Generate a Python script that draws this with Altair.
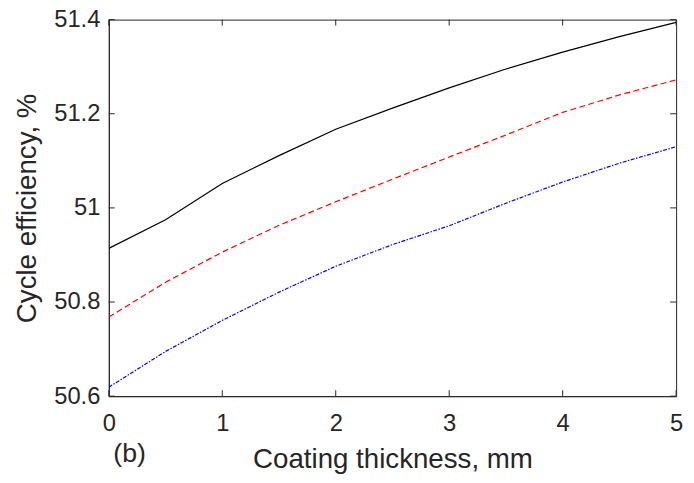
import altair as alt
import pandas as pd

thickness = [0, 0.5, 1, 1.5, 2, 2.5, 3, 3.5, 4, 4.5, 5]
black_vals = [50.914, 50.975, 51.052, 51.111, 51.167, 51.212, 51.255, 51.295, 51.331, 51.364, 51.394]
red_vals = [50.768, 50.842, 50.906, 50.963, 51.013, 51.061, 51.108, 51.155, 51.203, 51.240, 51.272]
blue_vals = [50.619, 50.695, 50.761, 50.821, 50.876, 50.922, 50.962, 51.010, 51.055, 51.095, 51.130]

x_ticks = [0, 1, 2, 3, 4, 5]
y_ticks = [50.6, 50.8, 51.0, 51.2, 51.4]

W, H = 574, 381
AX = "#262626"
FONT = "Liberation Sans"

df = pd.concat([
    pd.DataFrame({"x": thickness, "y": black_vals, "s": "black"}),
    pd.DataFrame({"x": thickness, "y": red_vals, "s": "red"}),
    pd.DataFrame({"x": thickness, "y": blue_vals, "s": "blue"}),
])

xs = alt.Scale(domain=[0, 5], nice=False, zero=False)
ys = alt.Scale(domain=[50.6, 51.4], nice=False, zero=False)

x_axis = alt.Axis(values=x_ticks, ticks=False, grid=False, domainColor=AX, domainWidth=1,
                  labelFont=FONT, labelFontSize=24, labelColor=AX, labelPadding=16,
                  labelFlush=False, labelOverlap=False,
                  title="Coating thickness, mm", titleFont=FONT, titleFontSize=28,
                  titleFontWeight="normal", titleColor=AX, titlePadding=10,
                  format="d")
y_axis = alt.Axis(values=y_ticks, ticks=False, grid=False, domainColor=AX, domainWidth=1,
                  labelFont=FONT, labelFontSize=24, labelColor=AX, labelPadding=9,
                  labelFlush=False, labelOverlap=False,
                  labelExpr="datum.value == 51 ? '51' : format(datum.value, '.1f')",
                  title="Cycle efficiency, %", titleFont=FONT, titleFontSize=28,
                  titleFontWeight="normal", titleColor=AX, titlePadding=12)

def line(series, color, dash=None):
    kw = dict(color=color, strokeWidth=1.2, clip=True)
    if dash:
        kw["strokeDash"] = dash
    return alt.Chart(df[df.s == series]).mark_line(**kw).encode(
        x=alt.X("x:Q", scale=xs, axis=x_axis),
        y=alt.Y("y:Q", scale=ys, axis=y_axis),
    )

lines = line("black", "#000000") + line("red", "#ff0000", [6, 3.5]) + line("blue", "#0000ff", [4, 1.5, 1.5, 1.5])

xt = pd.DataFrame({"t": x_ticks})
yt = pd.DataFrame({"t": y_ticks})
TL = 6
tick_bottom = alt.Chart(xt).mark_rule(color=AX, strokeWidth=1).encode(
    x=alt.X("t:Q", scale=xs), y=alt.value(H), y2=alt.value(H - TL))
tick_top = alt.Chart(xt).mark_rule(color=AX, strokeWidth=1).encode(
    x=alt.X("t:Q", scale=xs), y=alt.value(0), y2=alt.value(TL))
tick_left = alt.Chart(yt).mark_rule(color=AX, strokeWidth=1).encode(
    y=alt.Y("t:Q", scale=ys), x=alt.value(0), x2=alt.value(TL))
tick_right = alt.Chart(yt).mark_rule(color=AX, strokeWidth=1).encode(
    y=alt.Y("t:Q", scale=ys), x=alt.value(W), x2=alt.value(W - TL))

label_b = alt.Chart(pd.DataFrame({"t": ["(b)"]})).mark_text(
    font=FONT, fontSize=27, color=AX, align="center", baseline="middle"
).encode(text="t:N", x=alt.value(21), y=alt.value(440))

chart = alt.layer(lines, tick_bottom, tick_top, tick_left, tick_right, label_b).properties(
    width=W, height=H,
    autosize=alt.AutoSizeParams(type="none"),
    padding={"left": 102, "top": 9, "right": 10, "bottom": 77},
    background="white",
).configure_view(stroke=AX, strokeWidth=1)

chart.save("out.html", embed_options={"renderer": "svg", "actions": False})
